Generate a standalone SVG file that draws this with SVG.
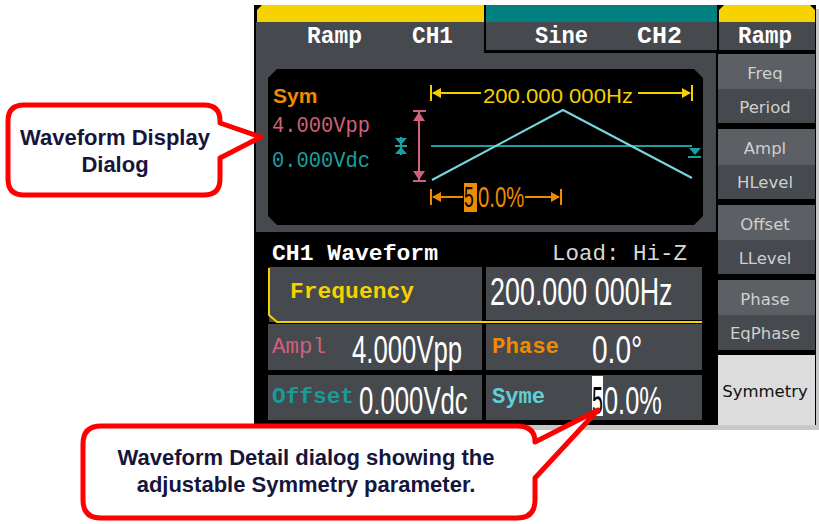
<svg xmlns="http://www.w3.org/2000/svg" width="819" height="524" viewBox="0 0 819 524">
<style>
.tab{font-family:"Liberation Mono",monospace;font-weight:bold;font-size:23px;fill:#ffffff}
.mono{font-family:"Liberation Mono",monospace;font-size:22px}
.b{font-weight:bold}
.menu{font-family:"DejaVu Sans",sans-serif;font-size:16.5px;fill:#cfcfcf;text-anchor:middle}
.big{font-family:"Liberation Sans",sans-serif;font-size:39px;fill:#ffffff}
.call{font-family:"Liberation Sans",Arial,sans-serif;font-weight:bold;font-size:22px;fill:#16163c;text-anchor:middle}
.bubble{fill:#ffffff;stroke:#ff0000;stroke-width:5;stroke-linejoin:round}
.cell{fill:#46494e}
.light{fill:#5c5f64}
</style>
<rect width="819" height="524" fill="#ffffff"/>

<g id="screen">
  <rect x="258" y="9" width="561" height="421" fill="#c8c8c8"/>
  <rect x="254" y="5" width="562" height="420" fill="#000000"/>
  <rect x="256" y="22" width="460" height="210" class="cell"/>
  <rect x="257" y="5" width="227" height="17" fill="#f5d200"/>
  <path d="M257,5 L262,5 L257,10 Z" fill="#000"/>
  <rect x="486" y="5" width="231" height="17" fill="#008080"/>
  <rect x="486" y="22" width="231" height="28" class="cell"/>
  <rect x="484" y="20" width="2" height="33" fill="#000"/>
  <rect x="484" y="50" width="332" height="3" fill="#000"/>
  <rect x="719" y="5" width="96" height="17" fill="#f5d200"/>
  <path d="M719,5 L724,5 L719,10 Z M815,5 L810,5 L815,10 Z" fill="#000"/>
  <rect x="719" y="22" width="96" height="28" class="cell"/>
  <text class="tab" x="307" y="43" textLength="55" lengthAdjust="spacingAndGlyphs">Ramp</text>
  <text class="tab" x="412" y="43" textLength="41" lengthAdjust="spacingAndGlyphs">CH1</text>
  <text class="tab" x="535" y="43" textLength="53" lengthAdjust="spacingAndGlyphs">Sine</text>
  <text class="tab" x="637" y="43" textLength="45" lengthAdjust="spacingAndGlyphs">CH2</text>
  <text class="tab" x="738" y="43" textLength="54" lengthAdjust="spacingAndGlyphs">Ramp</text>

  <path d="M277,69 H694 L703,78 V216 L694,225 H277 L268,216 V78 Z" fill="#000"/>
  <text x="273" y="103" font-family="Liberation Sans, sans-serif" font-weight="bold" font-size="21" fill="#f08a00">Sym</text>
  <text class="mono" x="272" y="132" font-size="21" fill="#d0607a" textLength="98" lengthAdjust="spacingAndGlyphs">4.000Vpp</text>
  <text class="mono" x="272" y="167" font-size="21" fill="#1aa0a0" textLength="98" lengthAdjust="spacingAndGlyphs">0.000Vdc</text>
  <g stroke="#f5d000" stroke-width="2" fill="none">
    <line x1="431" y1="85" x2="431" y2="101"/>
    <line x1="692" y1="85" x2="692" y2="101"/>
    <line x1="433" y1="93" x2="481" y2="93"/>
    <line x1="638" y1="93" x2="690" y2="93"/>
  </g>
  <path d="M432,93 L441,88 L441,98 Z M691,93 L682,88 L682,98 Z" fill="#f5d000"/>
  <text x="483" y="103" font-family="Liberation Sans, sans-serif" font-size="21" fill="#f5d000" textLength="150" lengthAdjust="spacingAndGlyphs">200.000 000Hz</text>
  <g stroke="#d0607a" stroke-width="2" fill="none">
    <line x1="413" y1="111" x2="426" y2="111"/>
    <line x1="413" y1="181" x2="426" y2="181"/>
    <line x1="419" y1="112" x2="419" y2="180"/>
  </g>
  <path d="M419,112 L413,121 L425,121 Z M419,180 L413,171 L425,171 Z" fill="#d0607a"/>
  <g stroke="#1aa0a0" stroke-width="2" fill="none">
    <line x1="401" y1="137" x2="401" y2="155"/>
    <line x1="395" y1="146" x2="407" y2="146"/>
    <line x1="431" y1="146" x2="692" y2="146"/>
    <line x1="688" y1="157" x2="701" y2="157"/>
  </g>
  <path d="M395,138 L407,138 L401,145 Z M395,154 L407,154 L401,147 Z M689,148 L701,148 L695,155 Z" fill="#1aa0a0"/>
  <polyline points="432,180 563,110 692,178" fill="none" stroke="#78d8e0" stroke-width="2"/>
  <g stroke="#f08a00" stroke-width="2" fill="none">
    <line x1="431" y1="189" x2="431" y2="205"/>
    <line x1="561" y1="189" x2="561" y2="205"/>
    <line x1="433" y1="197" x2="463" y2="197"/>
    <line x1="525" y1="197" x2="559" y2="197"/>
  </g>
  <path d="M432,197 L441,192 L441,202 Z M560,197 L551,192 L551,202 Z" fill="#f08a00"/>
  <rect x="464" y="183" width="13" height="29" fill="#f08a00"/>
  <text transform="translate(464,207) scale(0.6,1)" font-family="Liberation Sans, sans-serif" font-size="29" fill="#000">5</text>
  <text transform="translate(478,207) scale(0.7,1)" font-family="Liberation Sans, sans-serif" font-size="29" fill="#f08a00">0.0%</text>

  <text class="mono b" x="272" y="260" fill="#ffffff" textLength="166" lengthAdjust="spacingAndGlyphs">CH1 Waveform</text>
  <text class="mono" x="552" y="260" fill="#d8d8d8" textLength="135" lengthAdjust="spacingAndGlyphs">Load: Hi-Z</text>
  <rect x="269" y="267" width="213" height="55" class="cell"/>
  <rect x="486" y="267" width="216" height="53" class="cell"/>
  <path d="M269,268 V315 L277,322 H702" fill="none" stroke="#f5d200" stroke-width="2"/>
  <text class="mono b" x="290" y="298" fill="#f5d200" textLength="124" lengthAdjust="spacingAndGlyphs">Frequency</text>
  <text class="big" transform="translate(490,305) scale(0.69,1)">200.000 000Hz</text>

  <rect x="268" y="324" width="214" height="46" class="cell"/>
  <rect x="486" y="324" width="216" height="46" class="cell"/>
  <text class="mono" x="272" y="353" fill="#d0607a" textLength="54" lengthAdjust="spacingAndGlyphs">Ampl</text>
  <text class="big" transform="translate(352,363) scale(0.66,1)">4.000Vpp</text>
  <text class="mono b" x="492" y="353" fill="#f08a00" textLength="67" lengthAdjust="spacingAndGlyphs">Phase</text>
  <text class="big" transform="translate(592,363) scale(0.72,1)">0.0°</text>

  <rect x="268" y="375" width="214" height="45" class="cell"/>
  <rect x="486" y="375" width="216" height="45" class="cell"/>
  <text class="mono b" x="272" y="403" fill="#1a9a9a" textLength="82" lengthAdjust="spacingAndGlyphs">Offset</text>
  <text class="big" transform="translate(359,414) scale(0.66,1)">0.000Vdc</text>
  <text class="mono b" x="492" y="403" fill="#5fd0d8" textLength="53" lengthAdjust="spacingAndGlyphs">Syme</text>
  <rect x="592" y="376" width="11" height="40" fill="#ffffff"/>
  <text class="big" transform="translate(592,414) scale(0.5,1)" style="fill:#000000">5</text>
  <text class="big" transform="translate(604,414) scale(0.65,1)">0.0%</text>

  <rect x="718" y="54" width="97" height="35" class="light"/>
  <rect x="718" y="89" width="97" height="34" class="cell"/>
  <rect x="718" y="129" width="97" height="36" class="light"/>
  <rect x="718" y="165" width="97" height="34" class="cell"/>
  <rect x="718" y="205" width="97" height="35" class="light"/>
  <rect x="718" y="240" width="97" height="34" class="cell"/>
  <rect x="718" y="280" width="97" height="35" class="light"/>
  <rect x="718" y="315" width="97" height="35" class="cell"/>
  <rect x="718" y="355" width="97" height="70" fill="#dcdcdc"/>
  <text class="menu" x="765" y="79">Freq</text>
  <text class="menu" x="765" y="113">Period</text>
  <text class="menu" x="765" y="154">Ampl</text>
  <text class="menu" x="765" y="188">HLevel</text>
  <text class="menu" x="765" y="230">Offset</text>
  <text class="menu" x="765" y="264">LLevel</text>
  <text class="menu" x="765" y="305">Phase</text>
  <text class="menu" x="765" y="339">EqPhase</text>
  <text class="menu" x="765" y="397" style="fill:#111111">Symmetry</text>
</g>

<g id="callout-display">
  <path class="bubble" d="M24,105 H204 Q220,105 220,121 V123 L261,137 L220,158 V179 Q220,195 204,195 H24 Q8,195 8,179 V121 Q8,105 24,105 Z"/>
  <text class="call" x="115" y="145">Waveform Display</text>
  <text class="call" x="115" y="172">Dialog</text>
</g>

<g id="callout-detail">
  <path class="bubble" d="M101,426 H517 Q535,426 535,442 L598,410 L535,478 V500 Q535,518 517,518 H101 Q83,518 83,500 V444 Q83,426 101,426 Z"/>
  <text class="call" x="306" y="465">Waveform Detail dialog showing the</text>
  <text class="call" x="306" y="492">adjustable Symmetry parameter.</text>
</g>

<g id="connectors"></g>
</svg>
